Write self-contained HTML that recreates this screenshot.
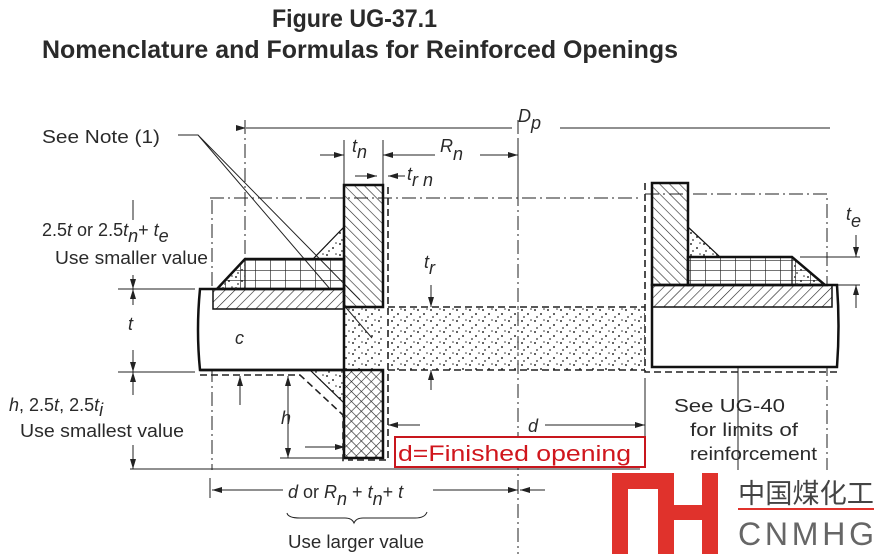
<!DOCTYPE html>
<html><head><meta charset="utf-8"><style>
html,body{margin:0;padding:0;background:#fff;}
svg{display:block;}
text{font-family:"Liberation Sans",sans-serif;fill:#2a2a2a;}
</style></head><body>
<svg width="880" height="554" viewBox="0 0 880 554" xmlns="http://www.w3.org/2000/svg">
<defs>
<pattern id="hatch" width="7" height="7" patternUnits="userSpaceOnUse" patternTransform="rotate(45)"><line x1="0" y1="0" x2="0" y2="7" stroke="#222" stroke-width="1.2"/></pattern>
<pattern id="hatch2" width="7" height="7" patternUnits="userSpaceOnUse" patternTransform="rotate(-45)"><line x1="0" y1="0" x2="0" y2="7" stroke="#222" stroke-width="1.2"/></pattern>
<pattern id="grid" width="15" height="10" patternUnits="userSpaceOnUse"><path d="M0 0H15M0 0V10" stroke="#222" stroke-width="1.3" fill="none"/></pattern>
<pattern id="cross" width="7" height="7" patternUnits="userSpaceOnUse" patternTransform="rotate(45)"><path d="M0 0V7M0 0H7" stroke="#222" stroke-width="1.2"/></pattern>
<pattern id="dots" width="13" height="11" patternUnits="userSpaceOnUse"><circle cx="2" cy="2" r="1" fill="#333"/><circle cx="8" cy="6" r="1" fill="#333"/><circle cx="4" cy="9" r="0.9" fill="#333"/><circle cx="11" cy="1" r="0.8" fill="#333"/></pattern>
<marker id="ar" markerWidth="10" markerHeight="8" refX="10" refY="4" orient="auto" markerUnits="userSpaceOnUse"><path d="M0 1L10 4L0 7Z" fill="#222"/></marker>
</defs>

<text x="272" y="27" font-size="25" font-weight="bold" fill="#111" textLength="165" lengthAdjust="spacingAndGlyphs" style="font-family:'Liberation Sans Narrow','Liberation Sans',sans-serif">Figure UG-37.1</text>
<text x="42" y="58" font-size="25" font-weight="bold" fill="#111" textLength="636" lengthAdjust="spacingAndGlyphs" style="font-family:'Liberation Sans Narrow','Liberation Sans',sans-serif">Nomenclature and Formulas for Reinforced Openings</text>

<g stroke="#222" fill="none" stroke-width="1">
<path d="M210 198H640M645 194H827V290M212 200V470M518 120V554M245 120V290M827 290V470" stroke-dasharray="14 4 2 4"/>
<line x1="130" y1="469" x2="640" y2="469"/>
<line x1="738" y1="367" x2="738" y2="470"/>
<line x1="246" y1="128" x2="512" y2="128" marker-start="url(#ar)"/>
<line x1="560" y1="128" x2="830" y2="128"/>
<line x1="344" y1="140" x2="344" y2="185"/><line x1="383" y1="140" x2="383" y2="185"/>
<line x1="320" y1="155" x2="344" y2="155" marker-end="url(#ar)"/>
<line x1="435" y1="155" x2="383" y2="155" marker-end="url(#ar)"/>
<line x1="480" y1="155" x2="518" y2="155" marker-end="url(#ar)"/>
<line x1="518" y1="140" x2="518" y2="200"/>
<line x1="355" y1="176" x2="377" y2="176" marker-end="url(#ar)"/>
<line x1="405" y1="176" x2="388" y2="176" marker-end="url(#ar)"/>
<path d="M178 135H198L360 300M198 135L372 338" />
<line x1="133" y1="200" x2="133" y2="220"/>
<line x1="118" y1="289" x2="195" y2="289"/><line x1="118" y1="372" x2="195" y2="372"/>
<line x1="133" y1="275" x2="133" y2="289" marker-end="url(#ar)"/><line x1="133" y1="305" x2="133" y2="289" marker-end="url(#ar)"/>
<line x1="133" y1="350" x2="133" y2="372" marker-end="url(#ar)"/><line x1="133" y1="395" x2="133" y2="372" marker-end="url(#ar)"/>
<line x1="133" y1="445" x2="133" y2="469" marker-end="url(#ar)"/>
<line x1="240" y1="350" x2="240" y2="370" marker-end="url(#ar)"/>
<line x1="240" y1="405" x2="240" y2="376" marker-end="url(#ar)"/>
<line x1="288" y1="376" x2="288" y2="458"/>
<line x1="288" y1="400" x2="288" y2="376" marker-end="url(#ar)"/>
<line x1="288" y1="440" x2="288" y2="458" marker-end="url(#ar)"/>
<line x1="280" y1="458" x2="345" y2="458"/>
<line x1="305" y1="447" x2="345" y2="447" marker-end="url(#ar)"/>
<line x1="431" y1="285" x2="431" y2="307" marker-end="url(#ar)"/>
<line x1="431" y1="390" x2="431" y2="370" marker-end="url(#ar)"/>
<line x1="420" y1="425" x2="388" y2="425" marker-end="url(#ar)"/>
<line x1="545" y1="425" x2="645" y2="425" marker-end="url(#ar)"/>
<line x1="645" y1="378" x2="645" y2="440"/>
<line x1="800" y1="257" x2="860" y2="257"/><line x1="800" y1="285" x2="860" y2="285"/>
<line x1="856" y1="235" x2="856" y2="257" marker-end="url(#ar)"/>
<line x1="856" y1="308" x2="856" y2="285" marker-end="url(#ar)"/>
<line x1="210" y1="478" x2="210" y2="498"/>
<line x1="283" y1="490" x2="212" y2="490" marker-end="url(#ar)"/>
<line x1="433" y1="490" x2="518" y2="490" marker-end="url(#ar)"/>
<line x1="545" y1="490" x2="520" y2="490" marker-end="url(#ar)"/>
<path d="M287 513Q288 518 300 518H345Q352 518 354 523Q356 518 363 518H415Q425 518 427 512"/>
</g>

<g stroke="#111" stroke-width="2.5">
<rect x="344" y="307" width="39" height="63" fill="url(#dots)" stroke="none"/>
<rect x="388" y="307" width="257" height="63" fill="url(#dots)" stroke="none"/>
<path d="M200 289H344V370H200Q196 330 200 289Z" fill="#fff"/>
<rect x="213" y="289" width="131" height="20" fill="url(#hatch)" stroke-width="1.5"/>
<path d="M217 289L245 259H344V289Z" fill="url(#grid)"/>
<path d="M217 289L245 259V289Z" fill="url(#dots)" stroke-width="1.2"/>
<path d="M313 259L344 227V259Z" fill="url(#dots)" stroke-width="1.2"/>
<path d="M344 185H383V307H344Z" fill="url(#hatch2)"/>
<path d="M344 370H383V458H344Z" fill="url(#cross)"/>
<path d="M310 370L344 403V370Z" fill="url(#dots)" stroke-width="1.2"/>
<path d="M200 370H344" fill="none"/>
<path d="M652 285H837Q840 326 837 367H652Z" fill="#fff"/>
<rect x="652" y="285" width="180" height="22" fill="url(#hatch)" stroke-width="1.5"/>
<path d="M688 257H792L825 285H688Z" fill="url(#grid)"/>
<path d="M792 257L825 285H792Z" fill="url(#dots)" stroke-width="1.2"/>
<path d="M688 227L720 257H688Z" fill="url(#dots)" stroke-width="1.2"/>
<path d="M652 183H688V285H652Z" fill="url(#hatch2)"/>
</g>
<g stroke="#222" stroke-width="1.6" fill="none" stroke-dasharray="7 4">
<path d="M388 187V460H348M200 375H300L343 415V462"/>
<path d="M388 307H645M388 370H645"/>
<path d="M645 183V372H838"/>
</g>

<g font-size="18">
<text x="42" y="143" textLength="118" lengthAdjust="spacingAndGlyphs">See Note (1)</text>
<text x="42" y="236">2.5<tspan font-style="italic">t</tspan> or 2.5<tspan font-style="italic">t</tspan><tspan font-style="italic" dy="6">n</tspan><tspan dy="-6">+ </tspan><tspan font-style="italic">t</tspan><tspan font-style="italic" dy="6">e</tspan></text>
<text x="55" y="264" textLength="153" lengthAdjust="spacingAndGlyphs">Use smaller value</text>
<text x="128" y="330" font-style="italic">t</text>
<text x="235" y="344" font-style="italic">c</text>
<text x="281" y="424" font-style="italic">h</text>
<text x="9" y="411"><tspan font-style="italic">h</tspan>, 2.5<tspan font-style="italic">t</tspan>, 2.5<tspan font-style="italic">t</tspan><tspan font-style="italic" dy="5">i</tspan></text>
<text x="20" y="437" textLength="164" lengthAdjust="spacingAndGlyphs">Use smallest value</text>
<text x="352" y="152" font-style="italic">t<tspan dy="6">n</tspan></text>
<text x="440" y="152" font-style="italic">R<tspan dy="8">n</tspan></text>
<text x="407" y="180" font-style="italic">t<tspan dy="6">r n</tspan></text>
<text x="518" y="122" font-style="italic">D<tspan dy="7">p</tspan></text>
<text x="424" y="268" font-style="italic">t<tspan dy="6">r</tspan></text>
<text x="846" y="220" font-style="italic">t<tspan dy="7">e</tspan></text>
<text x="528" y="432" font-style="italic">d</text>
<text x="674" y="412" textLength="111" lengthAdjust="spacingAndGlyphs">See UG-40</text>
<text x="690" y="436" textLength="108" lengthAdjust="spacingAndGlyphs">for limits of</text>
<text x="690" y="460" textLength="127" lengthAdjust="spacingAndGlyphs">reinforcement</text>
<text x="288" y="498"><tspan font-style="italic">d</tspan> or <tspan font-style="italic">R</tspan><tspan font-style="italic" dy="7">n</tspan><tspan dy="-7"> + </tspan><tspan font-style="italic">t</tspan><tspan font-style="italic" dy="7">n</tspan><tspan dy="-7">+ </tspan><tspan font-style="italic">t</tspan></text>
<text x="288" y="548" textLength="136" lengthAdjust="spacingAndGlyphs">Use larger value</text>
</g>

<rect x="395" y="437" width="250" height="30" fill="#fff" stroke="#c8161d" stroke-width="2"/>
<text x="398" y="461" font-size="22" style="fill:#d0161d" textLength="233" lengthAdjust="spacingAndGlyphs">d=Finished opening</text>

<g fill="#e0322c">
<rect x="612" y="473" width="16" height="81"/>
<rect x="612" y="473" width="62" height="16"/>
<rect x="658" y="473" width="16" height="81"/>
<rect x="702" y="473" width="16" height="81"/>
<rect x="674" y="505" width="30" height="15"/>
</g>
<text x="738" y="503" font-size="27" textLength="136" lengthAdjust="spacingAndGlyphs" style="font-family:'Liberation Sans','Noto Sans CJK SC',sans-serif;fill:#444">中国煤化工</text>
<line x1="738" y1="509" x2="874" y2="509" stroke="#e0322c" stroke-width="2"/>
<text x="738" y="545" font-size="32" textLength="136" lengthAdjust="spacing" style="fill:#666">CNMHG</text>
</svg>
</body></html>
